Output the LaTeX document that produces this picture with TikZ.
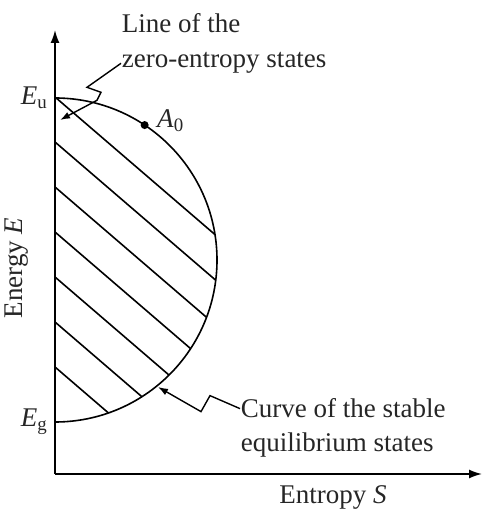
\documentclass[tikz,border=0pt]{standalone}
\usepackage{fontspec}
\setmainfont{Liberation Serif}
\usepackage{tikz}
\usetikzlibrary{calc, positioning, arrows.meta}

\tikzset{
    labeltext/.style={font=\fontsize{27}{35}\selectfont, text=black!85, inner sep=0pt},
    pointer/.style={-{Latex[length=10pt, width=7pt]}, line width=1.4pt},
}

\begin{document}
\begin{tikzpicture}[x=1pt, y=1pt, line width=1.6pt]
    \useasboundingbox (0,0) rectangle (484,514);

    % Axes
    \coordinate (O) at (55,40);
    \coordinate (C) at (55,254);
    \coordinate (Eu) at (55,416);
    \coordinate (Eg) at (55,92);
    \draw[-{Latex[length=13pt, width=9pt]}] (O) -- (482,40);
    \draw[-{Latex[length=13pt, width=9pt]}] (O) -- (55,484);
    \node[labeltext] (xlab) at (333,17) {Entropy \textit{S}};
    \node[labeltext, rotate=90] (ylab) at (17,246) {Energy \textit{E}};
    \node[labeltext, left=7pt of Eu] (Eulab) {\textit{E}\textsubscript{u}};
    \node[labeltext, left=7pt of Eg] (Eglab) {\textit{E}\textsubscript{g}};

    % Hatched region
    \begin{scope}
        \clip (C) circle (162pt);
        \foreach \k in {0,...,6} {
            \draw (55,{417-45*\k}) -- ++(250,-215);
        }
    \end{scope}

    % Curve of the stable equilibrium states
    \draw (Eu) arc[start angle=90, end angle=-90, radius=162pt];

    % State A0
    \node[circle, fill=black, inner sep=0pt, minimum size=8pt] (A0) at ($(C)+(56.4:162)$) {};
    \node[labeltext, right=7pt of A0, yshift=4pt] (A0lab) {\textit{A}\textsubscript{0}};

    % Labels with pointers
    \node[labeltext, anchor=base west] (line) at (121,481) {Line of the};
    \node[labeltext, anchor=base west] (zero) at (121,446) {zero-entropy states};
    \node[labeltext, anchor=base west] (curve) at (240,96) {Curve of the stable};
    \node[labeltext, anchor=base west] (equil) at (240,62) {equilibrium states};
    \coordinate (zerotip) at (60,394);
    \coordinate (curvetip) at (158,127);
    \draw[pointer] (zero.west) -- ++(-34,-24) -- ++(14,-5) -- ++(-4,-8) -- (zerotip);
    \draw[pointer] (curve.west) -- ++(-30,13) -- ++(-9,-16) -- (curvetip);
\end{tikzpicture}
\end{document}
